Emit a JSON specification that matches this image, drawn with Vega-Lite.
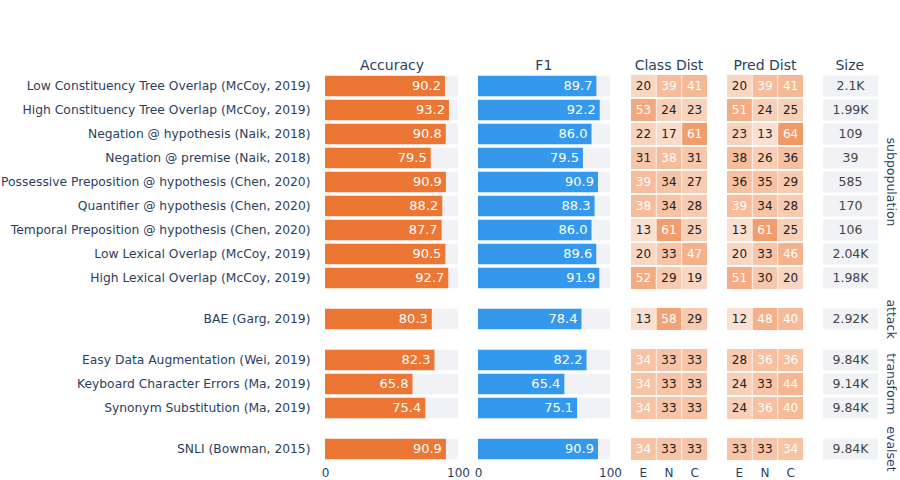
{
  "$schema": "https://vega.github.io/schema/vega-lite/v6.json",
  "padding": {"left": 0, "top": 59, "right": 0, "bottom": 0},
  "background": "white",
  "datasets": {
    "metrics": [
      {"name": "Low Constituency Tree Overlap (McCoy, 2019)", "group": "subpopulation", "accuracy": 90.2, "f1": 89.7, "size": "2.1K"},
      {"name": "High Constituency Tree Overlap (McCoy, 2019)", "group": "subpopulation", "accuracy": 93.2, "f1": 92.2, "size": "1.99K"},
      {"name": "Negation @ hypothesis (Naik, 2018)", "group": "subpopulation", "accuracy": 90.8, "f1": 86.0, "size": "109"},
      {"name": "Negation @ premise (Naik, 2018)", "group": "subpopulation", "accuracy": 79.5, "f1": 79.5, "size": "39"},
      {"name": "Possessive Preposition @ hypothesis (Chen, 2020)", "group": "subpopulation", "accuracy": 90.9, "f1": 90.9, "size": "585"},
      {"name": "Quantifier @ hypothesis (Chen, 2020)", "group": "subpopulation", "accuracy": 88.2, "f1": 88.3, "size": "170"},
      {"name": "Temporal Preposition @ hypothesis (Chen, 2020)", "group": "subpopulation", "accuracy": 87.7, "f1": 86.0, "size": "106"},
      {"name": "Low Lexical Overlap (McCoy, 2019)", "group": "subpopulation", "accuracy": 90.5, "f1": 89.6, "size": "2.04K"},
      {"name": "High Lexical Overlap (McCoy, 2019)", "group": "subpopulation", "accuracy": 92.7, "f1": 91.9, "size": "1.98K"},
      {"name": "BAE (Garg, 2019)", "group": "attack", "accuracy": 80.3, "f1": 78.4, "size": "2.92K"},
      {"name": "Easy Data Augmentation (Wei, 2019)", "group": "transform", "accuracy": 82.3, "f1": 82.2, "size": "9.84K"},
      {"name": "Keyboard Character Errors (Ma, 2019)", "group": "transform", "accuracy": 65.8, "f1": 65.4, "size": "9.14K"},
      {"name": "Synonym Substitution (Ma, 2019)", "group": "transform", "accuracy": 75.4, "f1": 75.1, "size": "9.84K"},
      {"name": "SNLI (Bowman, 2015)", "group": "evalset", "accuracy": 90.9, "f1": 90.9, "size": "9.84K"}
    ],
    "dist": [
      {"name": "Low Constituency Tree Overlap (McCoy, 2019)", "group": "subpopulation", "kind": "class", "label": "E", "value": 20},
      {"name": "Low Constituency Tree Overlap (McCoy, 2019)", "group": "subpopulation", "kind": "class", "label": "N", "value": 39},
      {"name": "Low Constituency Tree Overlap (McCoy, 2019)", "group": "subpopulation", "kind": "class", "label": "C", "value": 41},
      {"name": "High Constituency Tree Overlap (McCoy, 2019)", "group": "subpopulation", "kind": "class", "label": "E", "value": 53},
      {"name": "High Constituency Tree Overlap (McCoy, 2019)", "group": "subpopulation", "kind": "class", "label": "N", "value": 24},
      {"name": "High Constituency Tree Overlap (McCoy, 2019)", "group": "subpopulation", "kind": "class", "label": "C", "value": 23},
      {"name": "Negation @ hypothesis (Naik, 2018)", "group": "subpopulation", "kind": "class", "label": "E", "value": 22},
      {"name": "Negation @ hypothesis (Naik, 2018)", "group": "subpopulation", "kind": "class", "label": "N", "value": 17},
      {"name": "Negation @ hypothesis (Naik, 2018)", "group": "subpopulation", "kind": "class", "label": "C", "value": 61},
      {"name": "Negation @ premise (Naik, 2018)", "group": "subpopulation", "kind": "class", "label": "E", "value": 31},
      {"name": "Negation @ premise (Naik, 2018)", "group": "subpopulation", "kind": "class", "label": "N", "value": 38},
      {"name": "Negation @ premise (Naik, 2018)", "group": "subpopulation", "kind": "class", "label": "C", "value": 31},
      {"name": "Possessive Preposition @ hypothesis (Chen, 2020)", "group": "subpopulation", "kind": "class", "label": "E", "value": 39},
      {"name": "Possessive Preposition @ hypothesis (Chen, 2020)", "group": "subpopulation", "kind": "class", "label": "N", "value": 34},
      {"name": "Possessive Preposition @ hypothesis (Chen, 2020)", "group": "subpopulation", "kind": "class", "label": "C", "value": 27},
      {"name": "Quantifier @ hypothesis (Chen, 2020)", "group": "subpopulation", "kind": "class", "label": "E", "value": 38},
      {"name": "Quantifier @ hypothesis (Chen, 2020)", "group": "subpopulation", "kind": "class", "label": "N", "value": 34},
      {"name": "Quantifier @ hypothesis (Chen, 2020)", "group": "subpopulation", "kind": "class", "label": "C", "value": 28},
      {"name": "Temporal Preposition @ hypothesis (Chen, 2020)", "group": "subpopulation", "kind": "class", "label": "E", "value": 13},
      {"name": "Temporal Preposition @ hypothesis (Chen, 2020)", "group": "subpopulation", "kind": "class", "label": "N", "value": 61},
      {"name": "Temporal Preposition @ hypothesis (Chen, 2020)", "group": "subpopulation", "kind": "class", "label": "C", "value": 25},
      {"name": "Low Lexical Overlap (McCoy, 2019)", "group": "subpopulation", "kind": "class", "label": "E", "value": 20},
      {"name": "Low Lexical Overlap (McCoy, 2019)", "group": "subpopulation", "kind": "class", "label": "N", "value": 33},
      {"name": "Low Lexical Overlap (McCoy, 2019)", "group": "subpopulation", "kind": "class", "label": "C", "value": 47},
      {"name": "High Lexical Overlap (McCoy, 2019)", "group": "subpopulation", "kind": "class", "label": "E", "value": 52},
      {"name": "High Lexical Overlap (McCoy, 2019)", "group": "subpopulation", "kind": "class", "label": "N", "value": 29},
      {"name": "High Lexical Overlap (McCoy, 2019)", "group": "subpopulation", "kind": "class", "label": "C", "value": 19},
      {"name": "BAE (Garg, 2019)", "group": "attack", "kind": "class", "label": "E", "value": 13},
      {"name": "BAE (Garg, 2019)", "group": "attack", "kind": "class", "label": "N", "value": 58},
      {"name": "BAE (Garg, 2019)", "group": "attack", "kind": "class", "label": "C", "value": 29},
      {"name": "Easy Data Augmentation (Wei, 2019)", "group": "transform", "kind": "class", "label": "E", "value": 34},
      {"name": "Easy Data Augmentation (Wei, 2019)", "group": "transform", "kind": "class", "label": "N", "value": 33},
      {"name": "Easy Data Augmentation (Wei, 2019)", "group": "transform", "kind": "class", "label": "C", "value": 33},
      {"name": "Keyboard Character Errors (Ma, 2019)", "group": "transform", "kind": "class", "label": "E", "value": 34},
      {"name": "Keyboard Character Errors (Ma, 2019)", "group": "transform", "kind": "class", "label": "N", "value": 33},
      {"name": "Keyboard Character Errors (Ma, 2019)", "group": "transform", "kind": "class", "label": "C", "value": 33},
      {"name": "Synonym Substitution (Ma, 2019)", "group": "transform", "kind": "class", "label": "E", "value": 34},
      {"name": "Synonym Substitution (Ma, 2019)", "group": "transform", "kind": "class", "label": "N", "value": 33},
      {"name": "Synonym Substitution (Ma, 2019)", "group": "transform", "kind": "class", "label": "C", "value": 33},
      {"name": "SNLI (Bowman, 2015)", "group": "evalset", "kind": "class", "label": "E", "value": 34},
      {"name": "SNLI (Bowman, 2015)", "group": "evalset", "kind": "class", "label": "N", "value": 33},
      {"name": "SNLI (Bowman, 2015)", "group": "evalset", "kind": "class", "label": "C", "value": 33},
      {"name": "Low Constituency Tree Overlap (McCoy, 2019)", "group": "subpopulation", "kind": "pred", "label": "E", "value": 20},
      {"name": "Low Constituency Tree Overlap (McCoy, 2019)", "group": "subpopulation", "kind": "pred", "label": "N", "value": 39},
      {"name": "Low Constituency Tree Overlap (McCoy, 2019)", "group": "subpopulation", "kind": "pred", "label": "C", "value": 41},
      {"name": "High Constituency Tree Overlap (McCoy, 2019)", "group": "subpopulation", "kind": "pred", "label": "E", "value": 51},
      {"name": "High Constituency Tree Overlap (McCoy, 2019)", "group": "subpopulation", "kind": "pred", "label": "N", "value": 24},
      {"name": "High Constituency Tree Overlap (McCoy, 2019)", "group": "subpopulation", "kind": "pred", "label": "C", "value": 25},
      {"name": "Negation @ hypothesis (Naik, 2018)", "group": "subpopulation", "kind": "pred", "label": "E", "value": 23},
      {"name": "Negation @ hypothesis (Naik, 2018)", "group": "subpopulation", "kind": "pred", "label": "N", "value": 13},
      {"name": "Negation @ hypothesis (Naik, 2018)", "group": "subpopulation", "kind": "pred", "label": "C", "value": 64},
      {"name": "Negation @ premise (Naik, 2018)", "group": "subpopulation", "kind": "pred", "label": "E", "value": 38},
      {"name": "Negation @ premise (Naik, 2018)", "group": "subpopulation", "kind": "pred", "label": "N", "value": 26},
      {"name": "Negation @ premise (Naik, 2018)", "group": "subpopulation", "kind": "pred", "label": "C", "value": 36},
      {"name": "Possessive Preposition @ hypothesis (Chen, 2020)", "group": "subpopulation", "kind": "pred", "label": "E", "value": 36},
      {"name": "Possessive Preposition @ hypothesis (Chen, 2020)", "group": "subpopulation", "kind": "pred", "label": "N", "value": 35},
      {"name": "Possessive Preposition @ hypothesis (Chen, 2020)", "group": "subpopulation", "kind": "pred", "label": "C", "value": 29},
      {"name": "Quantifier @ hypothesis (Chen, 2020)", "group": "subpopulation", "kind": "pred", "label": "E", "value": 39},
      {"name": "Quantifier @ hypothesis (Chen, 2020)", "group": "subpopulation", "kind": "pred", "label": "N", "value": 34},
      {"name": "Quantifier @ hypothesis (Chen, 2020)", "group": "subpopulation", "kind": "pred", "label": "C", "value": 28},
      {"name": "Temporal Preposition @ hypothesis (Chen, 2020)", "group": "subpopulation", "kind": "pred", "label": "E", "value": 13},
      {"name": "Temporal Preposition @ hypothesis (Chen, 2020)", "group": "subpopulation", "kind": "pred", "label": "N", "value": 61},
      {"name": "Temporal Preposition @ hypothesis (Chen, 2020)", "group": "subpopulation", "kind": "pred", "label": "C", "value": 25},
      {"name": "Low Lexical Overlap (McCoy, 2019)", "group": "subpopulation", "kind": "pred", "label": "E", "value": 20},
      {"name": "Low Lexical Overlap (McCoy, 2019)", "group": "subpopulation", "kind": "pred", "label": "N", "value": 33},
      {"name": "Low Lexical Overlap (McCoy, 2019)", "group": "subpopulation", "kind": "pred", "label": "C", "value": 46},
      {"name": "High Lexical Overlap (McCoy, 2019)", "group": "subpopulation", "kind": "pred", "label": "E", "value": 51},
      {"name": "High Lexical Overlap (McCoy, 2019)", "group": "subpopulation", "kind": "pred", "label": "N", "value": 30},
      {"name": "High Lexical Overlap (McCoy, 2019)", "group": "subpopulation", "kind": "pred", "label": "C", "value": 20},
      {"name": "BAE (Garg, 2019)", "group": "attack", "kind": "pred", "label": "E", "value": 12},
      {"name": "BAE (Garg, 2019)", "group": "attack", "kind": "pred", "label": "N", "value": 48},
      {"name": "BAE (Garg, 2019)", "group": "attack", "kind": "pred", "label": "C", "value": 40},
      {"name": "Easy Data Augmentation (Wei, 2019)", "group": "transform", "kind": "pred", "label": "E", "value": 28},
      {"name": "Easy Data Augmentation (Wei, 2019)", "group": "transform", "kind": "pred", "label": "N", "value": 36},
      {"name": "Easy Data Augmentation (Wei, 2019)", "group": "transform", "kind": "pred", "label": "C", "value": 36},
      {"name": "Keyboard Character Errors (Ma, 2019)", "group": "transform", "kind": "pred", "label": "E", "value": 24},
      {"name": "Keyboard Character Errors (Ma, 2019)", "group": "transform", "kind": "pred", "label": "N", "value": 33},
      {"name": "Keyboard Character Errors (Ma, 2019)", "group": "transform", "kind": "pred", "label": "C", "value": 44},
      {"name": "Synonym Substitution (Ma, 2019)", "group": "transform", "kind": "pred", "label": "E", "value": 24},
      {"name": "Synonym Substitution (Ma, 2019)", "group": "transform", "kind": "pred", "label": "N", "value": 36},
      {"name": "Synonym Substitution (Ma, 2019)", "group": "transform", "kind": "pred", "label": "C", "value": 40},
      {"name": "SNLI (Bowman, 2015)", "group": "evalset", "kind": "pred", "label": "E", "value": 33},
      {"name": "SNLI (Bowman, 2015)", "group": "evalset", "kind": "pred", "label": "N", "value": 33},
      {"name": "SNLI (Bowman, 2015)", "group": "evalset", "kind": "pred", "label": "C", "value": 34}
    ]
  },
  "hconcat": [
    {
      "hconcat": [
        {
          "data": {"name": "metrics"},
          "title": {"text": "Accuracy", "dx": 157},
          "facet": {"row": {"field": "group", "type": "nominal", "sort": ["subpopulation", "attack", "transform", "evalset"], "title": null, "header": {"labels": false}}},
          "spacing": {"row": 17},
          "resolve": {"scale": {"y": "independent"}},
          "spec": {
            "width": 133,
            "height": {"step": 24},
            "encoding": {
              "y": {"field": "name", "type": "nominal", "sort": null, "scale": {"paddingInner": 0.15, "paddingOuter": 0.075},
                    "axis": {"title": null, "ticks": false, "domain": false, "labelFontSize": 12.3, "labelColor": "#2a3f5f", "labelPadding": 15, "labelLimit": 500}}
            },
            "layer": [
              {"mark": {"type": "bar", "color": "#f1f2f6"},
               "encoding": {"x": {"datum": 100, "type": "quantitative", "scale": {"domain": [0, 100], "nice": false},
                                  "axis": {"title": null, "values": [0, 100], "labelFlush": false, "labelOverlap": false, "ticks": false, "domain": false, "grid": false, "labelFontSize": 12, "labelColor": "#2a3f5f", "labelPadding": 6}}}},
              {"mark": {"type": "bar", "color": "#ec7734"},
               "encoding": {"x": {"field": "accuracy", "type": "quantitative"}}},
              {"mark": {"type": "text", "align": "right", "dx": -4, "color": "white", "fontSize": 13},
               "encoding": {"x": {"field": "accuracy", "type": "quantitative"}, "text": {"field": "accuracy", "type": "quantitative", "format": ".1f"}}}
            ]
          }
        },
        {
          "data": {"name": "metrics"},
          "title": {"text": "F1", "dx": -4},
          "facet": {"row": {"field": "group", "type": "nominal", "sort": ["subpopulation", "attack", "transform", "evalset"], "title": null, "header": {"labels": false}}},
          "spacing": {"row": 17},
          "resolve": {"scale": {"y": "independent"}},
          "spec": {
            "width": 132,
            "height": {"step": 24},
            "encoding": {
              "y": {"field": "name", "type": "nominal", "sort": null, "scale": {"paddingInner": 0.15, "paddingOuter": 0.075}, "axis": null}
            },
            "layer": [
              {"mark": {"type": "bar", "color": "#f1f2f6"},
               "encoding": {"x": {"datum": 100, "type": "quantitative", "scale": {"domain": [0, 100], "nice": false},
                                  "axis": {"title": null, "values": [0, 100], "labelFlush": false, "labelOverlap": false, "ticks": false, "domain": false, "grid": false, "labelFontSize": 12, "labelColor": "#2a3f5f", "labelPadding": 6}}}},
              {"mark": {"type": "bar", "color": "#3499ec"},
               "encoding": {"x": {"field": "f1", "type": "quantitative"}}},
              {"mark": {"type": "text", "align": "right", "dx": -4, "color": "white", "fontSize": 13},
               "encoding": {"x": {"field": "f1", "type": "quantitative"}, "text": {"field": "f1", "type": "quantitative", "format": ".1f"}}}
            ]
          }
        }
      ],
      "spacing": 4
    },
    {
      "hconcat": [
        {
          "data": {"name": "dist"},
          "transform": [
            {"filter": "datum.kind == 'class'"},
            {"joinaggregate": [{"op": "min", "field": "value", "as": "vmin"}, {"op": "max", "field": "value", "as": "vmax"}], "groupby": ["group"]}
          ],
          "title": {"text": "Class Dist"},
          "facet": {"row": {"field": "group", "type": "nominal", "sort": ["subpopulation", "attack", "transform", "evalset"], "title": null, "header": {"labels": false}}},
          "spacing": {"row": 17},
          "resolve": {"scale": {"y": "independent"}},
          "spec": {
            "width": 76,
            "height": {"step": 24},
            "encoding": {
              "y": {"field": "name", "type": "nominal", "sort": null, "scale": {"paddingInner": 0.08, "paddingOuter": 0.04}, "axis": null},
              "x": {"field": "label", "type": "nominal", "sort": ["E", "N", "C"], "scale": {"paddingInner": 0.03, "paddingOuter": 0},
                    "axis": {"title": null, "labelAngle": 0, "ticks": false, "domain": false, "grid": false, "labelFontSize": 12, "labelColor": "#2a3f5f", "labelPadding": 6}}
            },
            "layer": [
              {"mark": {"type": "rect"},
               "encoding": {"color": {"field": "value", "type": "quantitative", "scale": {"domain": [0, 90], "range": ["#fdf1ea", "#ec7734"], "interpolate": "rgb"}, "legend": null}}},
              {"mark": {"type": "text", "fontSize": 12},
               "encoding": {"text": {"field": "value", "type": "quantitative"},
                            "color": {"condition": {"test": "datum.value > (datum.vmin + datum.vmax) / 2", "value": "white"}, "value": "#222222"}}}
            ]
          }
        },
        {
          "data": {"name": "dist"},
          "transform": [
            {"filter": "datum.kind == 'pred'"},
            {"joinaggregate": [{"op": "min", "field": "value", "as": "vmin"}, {"op": "max", "field": "value", "as": "vmax"}], "groupby": ["group"]}
          ],
          "title": {"text": "Pred Dist"},
          "facet": {"row": {"field": "group", "type": "nominal", "sort": ["subpopulation", "attack", "transform", "evalset"], "title": null, "header": {"labels": false}}},
          "spacing": {"row": 17},
          "resolve": {"scale": {"y": "independent"}},
          "spec": {
            "width": 76,
            "height": {"step": 24},
            "encoding": {
              "y": {"field": "name", "type": "nominal", "sort": null, "scale": {"paddingInner": 0.08, "paddingOuter": 0.04}, "axis": null},
              "x": {"field": "label", "type": "nominal", "sort": ["E", "N", "C"], "scale": {"paddingInner": 0.03, "paddingOuter": 0},
                    "axis": {"title": null, "labelAngle": 0, "ticks": false, "domain": false, "grid": false, "labelFontSize": 12, "labelColor": "#2a3f5f", "labelPadding": 6}}
            },
            "layer": [
              {"mark": {"type": "rect"},
               "encoding": {"color": {"field": "value", "type": "quantitative", "scale": {"domain": [0, 90], "range": ["#fdf1ea", "#ec7734"], "interpolate": "rgb"}, "legend": null}}},
              {"mark": {"type": "text", "fontSize": 12},
               "encoding": {"text": {"field": "value", "type": "quantitative"},
                            "color": {"condition": {"test": "datum.value > (datum.vmin + datum.vmax) / 2", "value": "white"}, "value": "#222222"}}}
            ]
          }
        },
        {
          "data": {"name": "metrics"},
          "title": {"text": "Size", "dx": -10},
          "facet": {"row": {"field": "group", "type": "nominal", "sort": ["subpopulation", "attack", "transform", "evalset"], "title": null,
                            "header": {"labelOrient": "right", "labelAngle": 90, "labelFontSize": 12.5, "labelColor": "#2a3f5f", "labelPadding": 6}}},
          "spacing": {"row": 17},
          "resolve": {"scale": {"y": "independent"}},
          "spec": {
            "width": 55,
            "height": {"step": 24},
            "encoding": {
              "y": {"field": "name", "type": "nominal", "sort": null, "scale": {"paddingInner": 0.12, "paddingOuter": 0.06}, "axis": null}
            },
            "layer": [
              {"mark": {"type": "bar", "color": "#f1f2f6"},
               "encoding": {"x": {"datum": 1, "type": "quantitative", "scale": {"domain": [0, 1], "nice": false}, "axis": null}}},
              {"mark": {"type": "text", "fontSize": 12.5, "color": "#444444"},
               "encoding": {"x": {"datum": 0.5, "type": "quantitative"}, "text": {"field": "size", "type": "nominal"}}}
            ]
          }
        }
      ],
      "spacing": 20
    }
  ],
  "spacing": 9,
  "config": {
    "font": "DejaVu Sans",
    "view": {"stroke": null},
    "title": {"fontSize": 14, "fontWeight": "normal", "color": "#2a3f5f", "offset": 1, "anchor": "middle"},
    "axis": {"grid": false}
  }
}
